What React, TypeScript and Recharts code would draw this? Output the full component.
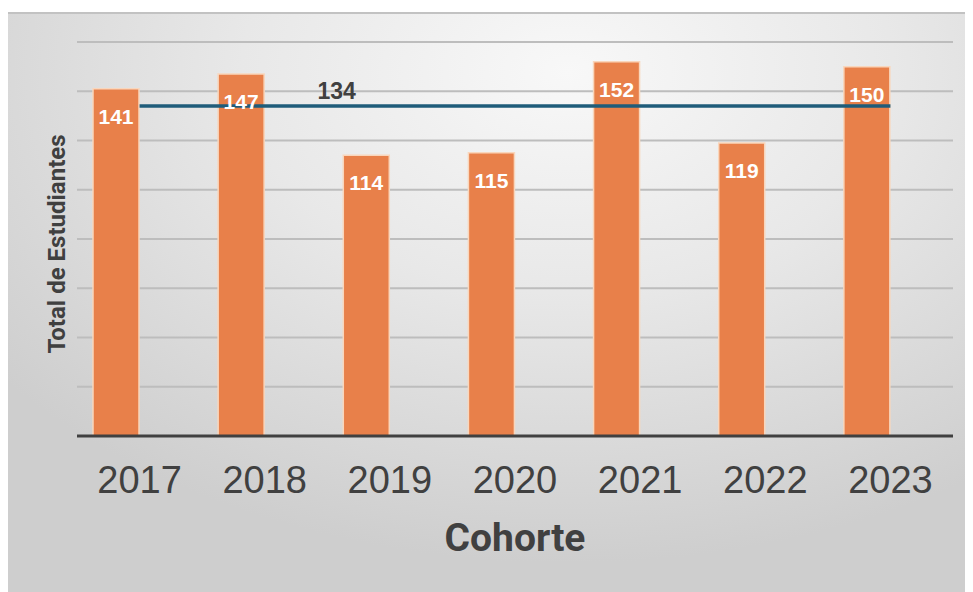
import {
  Bar,
  CartesianGrid,
  ComposedChart,
  LabelList,
  ReferenceLine,
  XAxis,
  YAxis,
} from "recharts";

const cohorts = ["2017", "2018", "2019", "2020", "2021", "2022", "2023"];
const students = [141, 147, 114, 115, 152, 119, 150];
const average = 134;
const yTicks = [0, 20, 40, 60, 80, 100, 120, 140, 160];

const data = cohorts.map((year, i) => ({ year, students: students[i] }));

const ink = "#404040";

export default function App() {
  return (
    <div style={{ paddingTop: 4 }}>
      <div
        style={{
          width: 965,
          height: 580,
          boxSizing: "border-box",
          borderTop: "2px solid #c2c2c2",
          background:
            "radial-gradient(ellipse 75% 85% at 58% 10%, #f8f8f8 0%, #e8e8e8 45%, #cecece 100%)",
          fontFamily: "'Liberation Sans', Arial, sans-serif",
        }}
      >
        <ComposedChart
          width={965}
          height={578}
          data={data}
          margin={{ top: 28, right: 20, left: 0, bottom: 0 }}
        >
          <CartesianGrid
            xAxisId="main"
            vertical={false}
            stroke="#bdbdbd"
            strokeWidth={2}
          />
          <XAxis
            xAxisId="bars"
            dataKey="year"
            hide
            height={0}
            padding={{ left: -24, right: 24 }}
          />
          <XAxis
            xAxisId="main"
            dataKey="year"
            height={156}
            tickLine={false}
            tickSize={0}
            tickMargin={30}
            axisLine={{ stroke: ink, strokeWidth: 3 }}
            tick={{ fontSize: 38, fill: ink }}
            interval={0}
            label={({ viewBox }: any) => (
              <text
                x={viewBox.x + viewBox.width / 2}
                y={viewBox.y + 115}
                textAnchor="middle"
                fontFamily="Roboto, sans-serif"
                fontWeight="bold"
                fontSize={39}
                fill={ink}
              >
                Cohorte
              </text>
            )}
          />
          <YAxis
            width={69}
            domain={[0, 160]}
            ticks={yTicks}
            interval={0}
            tick={() => <g />}
            tickLine={false}
            axisLine={false}
            label={({ viewBox }: any) => {
              const x = viewBox.x + 57;
              const y = viewBox.y + viewBox.height / 2 + 5;
              return (
                <text
                  x={x}
                  y={y}
                  transform={`rotate(-90, ${x}, ${y})`}
                  textAnchor="middle"
                  fontFamily="Roboto, sans-serif"
                  fontWeight="bold"
                  fontSize={24}
                  fill={ink}
                >
                  Total de Estudiantes
                </text>
              );
            }}
          />
          <Bar
            xAxisId="bars"
            dataKey="students"
            barSize={46}
            fill="#e8804a"
            stroke="#f9d6bc"
            strokeWidth={1.5}
            isAnimationActive={false}
          >
            <LabelList
              dataKey="students"
              position="insideTop"
              offset={20}
              fill="#ffffff"
              fontSize={21}
              fontWeight="bold"
            />
          </Bar>
          <ReferenceLine
            xAxisId="main"
            segment={[
              { x: cohorts[0], y: average },
              { x: cohorts[cohorts.length - 1], y: average },
            ]}
            stroke="#1f5c7a"
            strokeWidth={3.5}
            label={({ viewBox }: any) => (
              <text
                x={viewBox.x + 197}
                y={viewBox.y - 7}
                textAnchor="middle"
                fontWeight="bold"
                fontSize={23}
                fill={ink}
              >
                {average}
              </text>
            )}
          />
        </ComposedChart>
      </div>
    </div>
  );
}
